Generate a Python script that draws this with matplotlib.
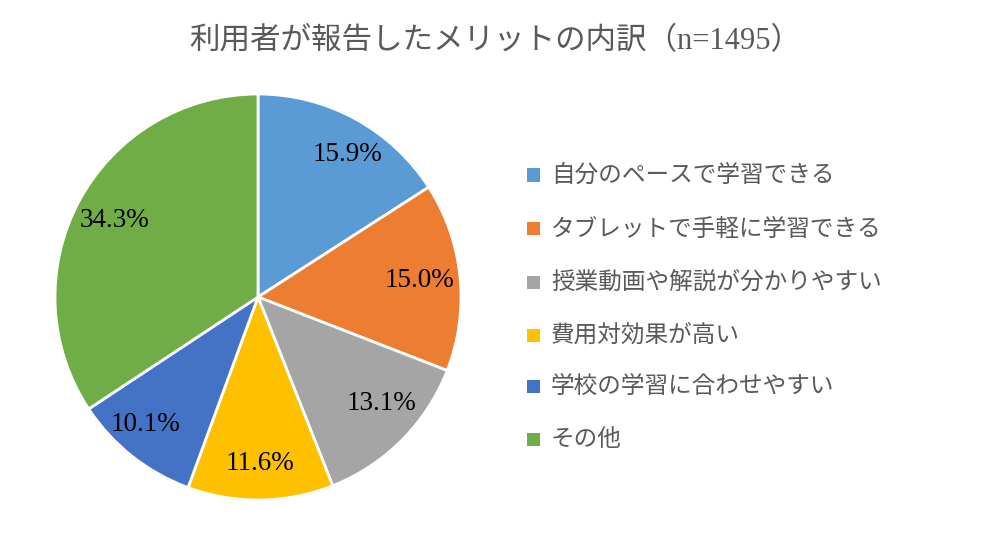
import matplotlib
matplotlib.use("Agg")
import matplotlib.pyplot as plt
from matplotlib.patches import Rectangle

# データ
categories = ["自分のペースで学習できる", "タブレットで手軽に学習できる", "授業動画や解説が分かりやすい",
              "費用対効果が高い", "学校の学習に合わせやすい", "その他"]
shares = [15.9, 15.0, 13.1, 11.6, 10.1, 34.3]
colors = ["#5B9BD5", "#ED7D31", "#A5A5A5", "#FFC000", "#4472C4", "#70AD47"]
title = "利用者が報告したメリットの内訳（n=1495）"

W, H = 987, 559
fig = plt.figure(figsize=(W / 100, H / 100), dpi=100)

# pie axes: center (258, 297) px, radius 203 px
cx, cy, r = 258, 297, 203
half = 215
ax = fig.add_axes([(cx - half) / W, (H - cy - half) / H, 2 * half / W, 2 * half / H])
lim = half / r
ax.set_aspect("equal")
ax.axis("off")

wedges, texts, autotexts = ax.pie(
    shares, colors=colors, startangle=90, counterclock=False,
    autopct=lambda p: f"{p:.1f}%", pctdistance=0.8,
    wedgeprops=dict(edgecolor="white", linewidth=2),
    textprops=dict(family="Liberation Serif", fontsize=19.5, color="black"),
    radius=1.0, frame=False)
ax.set_xlim(-lim, lim)
ax.set_ylim(-lim, lim)
# small nudges to match Excel's label placement
nudge = [(0.06, 0.0), (0.0, 0.0), (0.04, 0.04), (0.0, -0.02), (-0.06, 0.0), (0.0, 0.0)]
for t, (dx, dy) in zip(autotexts, nudge):
    x, y = t.get_position()
    t.set_position((x + dx, y + dy))

fig.text(495 / W, 1 - 42 / H, title, ha="center", va="center", fontsize=22,
         fontweight="normal", color="#595959",
         family=["Liberation Serif", "Noto Sans CJK JP"])

# legend
row_y = [175, 229, 282, 335, 386, 439]
for yy, lab, col in zip(row_y, categories, colors):
    fig.patches.append(Rectangle(((527) / W, 1 - (yy + 6.5) / H), 13 / W, 13 / H,
                                 transform=fig.transFigure, facecolor=col,
                                 edgecolor="none"))
    fig.text(551 / W, 1 - yy / H, lab, ha="left", va="center", fontsize=17,
             color="#595959", family=["Noto Sans CJK JP", "DejaVu Sans"])

fig.savefig("out.png", dpi=100, facecolor="white")
